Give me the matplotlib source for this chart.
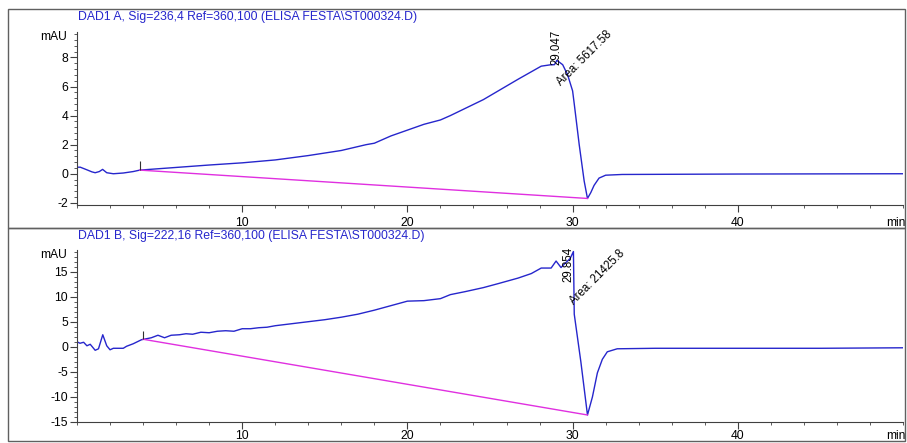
import matplotlib
matplotlib.use("Agg")
import matplotlib.pyplot as plt
from matplotlib.patches import Rectangle
from matplotlib.ticker import MultipleLocator

plt.rcParams["font.family"] = ["Liberation Sans", "DejaVu Sans"]
plt.rcParams["axes.unicode_minus"] = False

# --- DAD1 A trace (min, mAU)
time_a = [0.0, 0.2, 0.6, 0.9, 1.1, 1.35, 1.55, 1.8, 2.2, 2.8, 3.4, 3.8,
          5.0, 6.2, 8.0, 10.0, 12.0, 14.0, 16.0, 17.5, 18.0, 19.0, 20.0,
          21.0, 22.0, 22.6, 24.6, 26.7, 28.1, 28.7, 28.9, 29.05, 29.4,
          29.7, 30.0, 30.1, 30.4, 30.7, 30.9, 31.1, 31.3, 31.6, 32.0,
          33.0, 40.0, 50.0]
signal_a = [0.45, 0.45, 0.27, 0.13, 0.07, 0.15, 0.3, 0.07, 0.0, 0.05, 0.15, 0.25,
            0.35, 0.45, 0.6, 0.75, 0.95, 1.25, 1.6, 2.0, 2.1, 2.6, 3.0,
            3.4, 3.7, 4.0, 5.1, 6.5, 7.4, 7.5, 7.5, 7.8, 7.5,
            6.8, 5.7, 4.8, 2.0, -0.5, -1.7, -1.3, -0.8, -0.3, -0.1,
            -0.05, -0.02, 0.0]
base_a_t = [3.8, 30.9]
base_a_v = [0.25, -1.7]

# --- DAD1 B trace
time_b = [0.0, 0.18, 0.4, 0.6, 0.8, 1.1, 1.3, 1.56, 1.8, 2.0, 2.2, 2.8,
          3.0, 3.4, 3.9, 4.5, 4.9, 5.3, 5.7, 6.2, 6.6, 7.0, 7.5, 8.0,
          8.5, 9.0, 9.5, 10.0, 10.5, 11.0, 11.5, 12.0, 13.0, 14.0, 15.0,
          16.0, 17.0, 18.0, 19.0, 20.0, 21.0, 22.0, 22.6, 23.5, 24.6,
          25.5, 26.7, 27.5, 28.1, 28.7, 29.0, 29.3, 29.5, 29.85, 30.05,
          30.1, 30.5, 30.9, 31.2, 31.5, 31.8, 32.1, 32.7, 35.0, 40.0,
          45.0, 50.0]
signal_b = [1.0, 0.7, 0.9, 0.2, 0.5, -0.7, -0.4, 2.4, 0.2, -0.6, -0.3, -0.3,
            0.1, 0.6, 1.4, 1.8, 2.3, 1.8, 2.3, 2.4, 2.6, 2.5, 2.9, 2.8,
            3.1, 3.2, 3.1, 3.6, 3.6, 3.8, 3.9, 4.2, 4.6, 5.0, 5.4,
            5.9, 6.5, 7.3, 8.2, 9.1, 9.2, 9.6, 10.4, 11.0, 11.8,
            12.6, 13.7, 14.6, 15.7, 15.7, 17.1, 15.8, 16.5, 17.6, 19.0,
            6.5, -3.0, -13.6, -10.0, -5.2, -2.5, -1.0, -0.4, -0.3, -0.3,
            -0.3, -0.2]
base_b_t = [4.0, 30.9]
base_b_v = [1.5, -13.6]

titles = ["DAD1 A, Sig=236,4 Ref=360,100 (ELISA FESTA\\ST000324.D)",
          "DAD1 B, Sig=222,16 Ref=360,100 (ELISA FESTA\\ST000324.D)"]
peak_labels = ["29.047", "29.854"]
area_labels = ["Area: 5617.58", "Area: 21425.8"]

blue = "#2626cc"
magenta = "#e030e0"
W, H = 907, 443

fig = plt.figure(figsize=(W / 100, H / 100), dpi=100)
ax1 = fig.add_axes([77 / W, 238 / H, 826 / W, 173 / H])
ax2 = fig.add_axes([77 / W, 21 / H, 826 / W, 172 / H])

# frames around each panel
fig.patches.append(Rectangle((8 / W, 215 / H), 897 / W, 219 / H, transform=fig.transFigure,
                             fill=False, ec="#606060", lw=1))
fig.patches.append(Rectangle((8 / W, 2 / H), 897 / W, 213 / H, transform=fig.transFigure,
                             fill=False, ec="#606060", lw=1))

panels = [
    (ax1, time_a, signal_a, base_a_t, base_a_v, (-2.15, 9.75), 2, 0.4, 3.5),
    (ax2, time_b, signal_b, base_b_t, base_b_v, (-15.0, 19.3), 5, 1, 0.5),
]

for ax, t, s, bt, bv, ylim, major, minor, xpad in panels:
    ax.plot(t, s, color=blue, lw=1.0)
    ax.plot(bt, bv, color=magenta, lw=1.0)
    # integration start marker
    span = ylim[1] - ylim[0]
    ax.vlines(bt[0], bv[0], bv[0] + 0.05 * span, color="#303030", lw=0.8)

    ax.set_xlim(0, 50)
    ax.set_ylim(*ylim)
    ax.xaxis.set_major_locator(MultipleLocator(10))
    ax.xaxis.set_minor_locator(MultipleLocator(2))
    ax.yaxis.set_major_locator(MultipleLocator(major))
    ax.yaxis.set_minor_locator(MultipleLocator(minor))
    ax.set_xticks([10, 20, 30, 40])
    ax.tick_params(axis="both", which="major", labelsize=8.7, length=5, width=0.8,
                   color="#404040")
    ax.tick_params(axis="x", which="major", pad=xpad)
    ax.tick_params(axis="y", which="major", pad=1.5)
    ax.tick_params(axis="both", which="minor", length=2.2, width=0.6, color="#404040")
    for side in ["top", "right"]:
        ax.spines[side].set_visible(False)
    for side in ["left", "bottom"]:
        ax.spines[side].set_color("#404040")
        ax.spines[side].set_linewidth(0.8)
    ax.patch.set_alpha(0)

    ax.text(-0.012, 0.97, "mAU", transform=ax.transAxes, ha="right", va="center", fontsize=8.7)
    ax.annotate("min", xy=(1.003, 0), xycoords="axes fraction",
                xytext=(0, -7 - xpad * 1.39), textcoords="offset pixels",
                ha="right", va="top", fontsize=8.7)

fig.text(78 / W, (H - 17) / H, titles[0], color=blue, fontsize=8.8, ha="left", va="center")
fig.text(78 / W, (H - 236) / H, titles[1], color=blue, fontsize=8.8, ha="left", va="center")

# peak annotations
ax1.text(29.0, 7.45, peak_labels[0], rotation=90, ha="center", va="bottom", fontsize=8.3,
         clip_on=False)
ax1.text(29.4, 5.9, area_labels[0], rotation=45, rotation_mode="anchor",
         ha="left", va="bottom", fontsize=8.3)
ax2.text(29.75, 13.0, peak_labels[1], rotation=90, ha="center", va="bottom", fontsize=8.3,
         clip_on=False)
ax2.text(30.2, 7.9, area_labels[1], rotation=45, rotation_mode="anchor",
         ha="left", va="bottom", fontsize=8.3)

fig.savefig("out.png", dpi=100)
